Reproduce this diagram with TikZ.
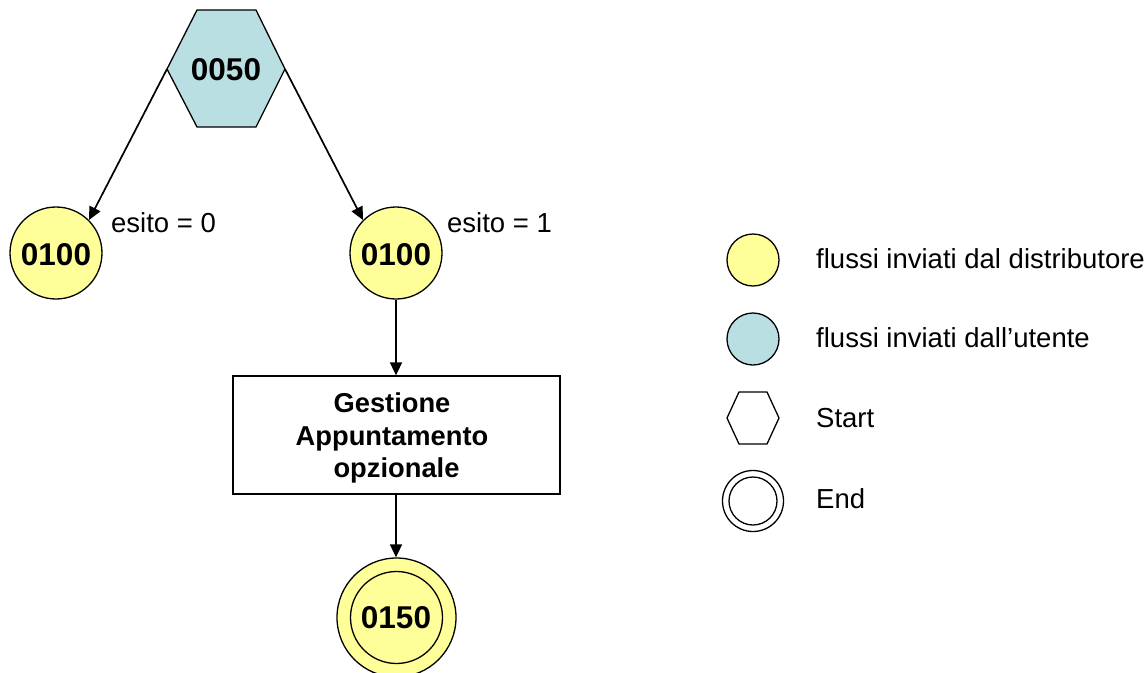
\documentclass[tikz,border=0pt]{standalone}
\usepackage{fontspec}
\setmainfont{Liberation Sans}
\usetikzlibrary{arrows.meta}
\definecolor{fyellow}{HTML}{FFFF99}
\definecolor{fblue}{HTML}{B9DFE3}
\tikzset{
  x=1pt,y=-1pt,
  flow/.style={line width=1.7pt,-{Triangle[length=13pt,width=12pt]}},
  disc/.style={circle,draw=black,line width=1.3pt,inner sep=0pt,minimum size=#1},
  shapeline/.style={draw=black,line width=1.3pt},
  code/.style={font=\fontsize{31.5}{32}\selectfont\bfseries,anchor=base,inner sep=0pt},
  lab/.style={font=\fontsize{27.5}{27.5}\selectfont,anchor=base west,inner sep=0pt},
}
\begin{document}
\begin{tikzpicture}
\useasboundingbox (0,0) rectangle (1148,672);
\clip (0,0) rectangle (1148,672);
% start hexagon
\coordinate (hexL) at (167,69);
\coordinate (hexR) at (285,69);
\filldraw[shapeline,fill=fblue,line join=miter] (hexL) -- (197,10) -- (256,10) -- (hexR) -- (256,127) -- (197,127) -- cycle;
\node[code] (start) at (226,80) {0050};
% circles
\node[disc=92pt,fill=fyellow] (left) at (56,253) {};
\node[code] (leftcode) at (56,265) {0100};
\node[disc=92pt,fill=fyellow] (right) at (396,253) {};
\node[code] (rightcode) at (396,265) {0100};
% box
\node[shapeline,fill=white,minimum width=327pt,minimum height=118pt,inner sep=0pt] (box) at (396.5,435) {};
\node[font=\fontsize{27.3}{32.5}\selectfont\bfseries,align=center,inner sep=0pt] (boxtext) at (396.5,438) {\hbox{Gestione\kern9pt}\\\hbox{Appuntamento\kern9pt}\\opzionale};
% end
\node[disc=119pt,fill=fyellow] (end) at (396.5,617.5) {};
\node[disc=92pt] (endinner) at (396.5,617.5) {};
\node[code] (endcode) at (396,628) {0150};
% connectors
\draw[flow] (hexL) -- (left.north east);
\draw[flow] (hexR) -- (right.north west);
\draw[flow] (right.south) -- (box.north -| right.south);
\draw[flow] (box.south -| right.south) -- (end.north -| right.south);
% edge labels
\node[lab] (e0) at (111,232) {esito = 0};
\node[lab] (e1) at (447,232) {esito = 1};
% legend
\node[disc=52pt,fill=fyellow] (ly) at (753,260) {};
\node[disc=52pt,fill=fblue] (lb) at (753,339) {};
\draw[shapeline] (727,418) -- (739,392) -- (767,392) -- (779,418) -- (767,444) -- (739,444) -- cycle;
\node[disc=61pt] (le) at (753,501) {};
\node[disc=48pt] (le2) at (753,501) {};
\node[lab] (t1) at (816,268) {flussi inviati dal distributore};
\node[lab] (t2) at (816,347) {flussi inviati dall’utente};
\node[lab] (t3) at (816,427) {Start};
\node[lab] (t4) at (816,508) {End};
\end{tikzpicture}
\end{document}
